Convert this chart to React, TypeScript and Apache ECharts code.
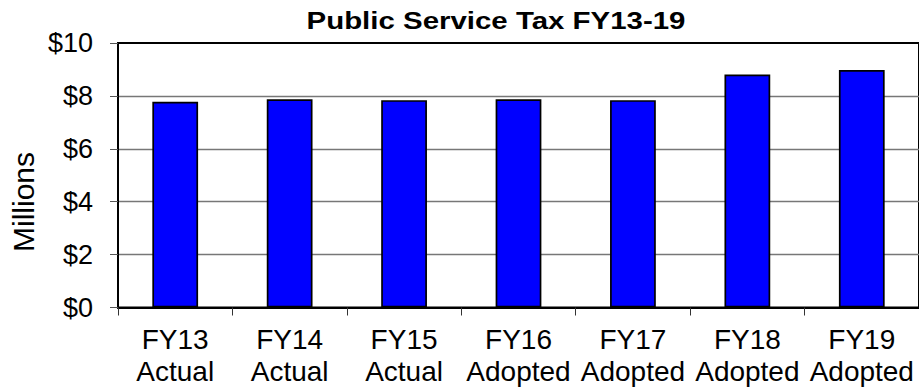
import React, { useEffect, useRef } from "react";
import * as echarts from "echarts";

const categories = ["FY13\nActual", "FY14\nActual", "FY15\nActual", "FY16\nAdopted", "FY17\nAdopted", "FY18\nAdopted", "FY19\nAdopted"];
const values = [7.78, 7.87, 7.84, 7.87, 7.84, 8.81, 8.98];
const titleText = "Public Service Tax FY13-19";
const yAxisTitle = "Millions";

const FONT = "'Liberation Sans', Arial, sans-serif";

export default function App() {
  const ref = useRef<HTMLDivElement>(null);
  useEffect(() => {
    if (!ref.current) return;
    const chart = echarts.init(ref.current, null, { renderer: "svg" });
    chart.setOption({
      animation: false,
      backgroundColor: "#ffffff",
      grid: {
        left: 118,
        top: 43,
        right: -3,
        bottom: 81.5,
        show: true,
        borderColor: "#000",
        borderWidth: 2,
        backgroundColor: "transparent",
      },
      graphic: [
        {
          type: "text",
          x: 496,
          y: 21,
          scaleX: 1.28,
          style: {
            text: titleText,
            font: `bold 23px ${FONT}`,
            fill: "#000",
            align: "center",
            verticalAlign: "middle",
          },
        },
        {
          type: "text",
          x: 23,
          y: 202,
          rotation: Math.PI / 2,
          style: {
            text: yAxisTitle,
            font: `30px ${FONT}`,
            fill: "#000",
            align: "center",
            verticalAlign: "middle",
          },
        },
      ],
      xAxis: {
        type: "category",
        data: categories,
        boundaryGap: true,
        axisLine: { show: true, lineStyle: { color: "#000", width: 2 } },
        axisTick: { show: true, length: 8, lineStyle: { color: "#333", width: 1 } },
        axisLabel: {
          color: "#000",
          fontFamily: FONT,
          fontSize: 28,
          lineHeight: 32,
          margin: 16,
          interval: 0,
        },
        splitLine: { show: false },
      },
      yAxis: {
        type: "value",
        min: 0,
        max: 10,
        interval: 2,
        axisLine: { show: true, lineStyle: { color: "#000", width: 2 } },
        axisTick: { show: true, length: 8, lineStyle: { color: "#555", width: 1 } },
        axisLabel: {
          color: "#000",
          fontFamily: FONT,
          fontSize: 27,
          margin: 25,
          formatter: (v: number) => "$" + v,
        },
        splitLine: {
          show: true,
          showMinLine: false,
          showMaxLine: false,
          lineStyle: { color: "#777", width: 1.3 },
        },
      },
      series: [
        {
          type: "bar",
          data: values,
          barWidth: "40%",
          itemStyle: { color: "#0000FF", borderColor: "#000", borderWidth: 1.7 },
        },
      ],
    });
    return () => chart.dispose();
  }, []);
  return (
    <div
      ref={ref}
      style={{ position: "absolute", left: 0, top: 0, width: 919, height: 389 }}
    />
  );
}
